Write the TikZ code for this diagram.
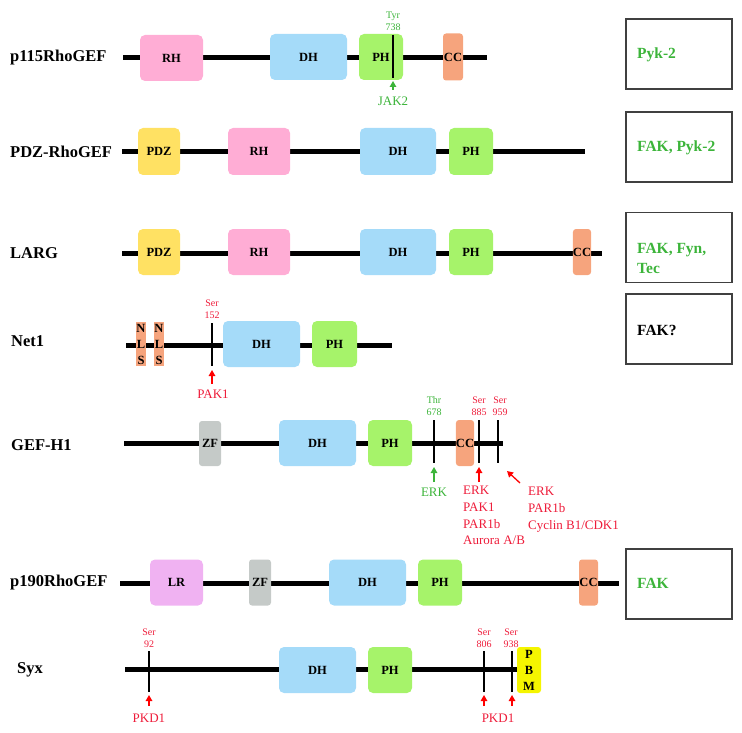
\documentclass[tikz,border=0pt]{standalone}
\usepackage{fontspec}
\setmainfont{Liberation Serif}
\usetikzlibrary{arrows.meta}
\definecolor{crh}{HTML}{FFADD5}
\definecolor{cdh}{HTML}{A5DBF9}
\definecolor{cph}{HTML}{A6F36A}
\definecolor{ccc}{HTML}{F6A47D}
\definecolor{cpdz}{HTML}{FFE163}
\definecolor{czf}{HTML}{C5CAC8}
\definecolor{clr}{HTML}{F0B2F2}
\definecolor{cpbm}{HTML}{F5F500}
\definecolor{cgreen}{HTML}{3CB43A}
\definecolor{cred}{HTML}{EE1C3A}
\definecolor{cframe}{HTML}{404040}
\begin{document}
\begin{tikzpicture}[x=1pt,y=-1pt,
  bb/.style={line width=5pt},
  dom/.style={rounded corners=5pt, inner sep=0pt, font=\fontsize{12.5}{12.5}\selectfont\bfseries},
  thin/.style={inner sep=0pt, align=center, font=\fontsize{12.5}{16}\selectfont\bfseries},
  pname/.style={anchor=west, inner sep=0pt, font=\fontsize{16.5}{16.5}\selectfont\bfseries},
  site/.style={line width=2.2pt},
  stxt/.style={align=center, inner sep=0pt, font=\fontsize{10}{12.5}\selectfont},
  ktxt/.style={align=center, inner sep=0pt, font=\fontsize{13}{16.5}\selectfont},
  kblock/.style={align=left, anchor=north west, inner sep=0pt, font=\fontsize{13}{16.7}\selectfont, text=cred},
  garr/.style={draw=cgreen, line width=1.3pt, -{Triangle[length=6pt,width=6.5pt]}},
  rarr/.style={draw=red, line width=1.3pt, -{Triangle[length=6pt,width=6.5pt]}},
  kbox/.style={draw=cframe, line width=1.2pt, minimum width=106pt, minimum height=70pt, inner sep=0pt},
  ktext/.style={anchor=west, inner sep=0pt, align=left, font=\fontsize{15.5}{20}\selectfont\bfseries}
]
\useasboundingbox (0,0) rectangle (742,733);

% ---------- Row 1: p115RhoGEF ----------
\node[pname] (n1) at (10,58) {p115RhoGEF};
\coordinate (b1s) at (123,58); \coordinate (b1e) at (487,58);
\draw[bb] (b1s) -- (b1e);
\node[dom, fill=crh, minimum width=63pt, minimum height=46pt] (r1rh) at (171.5,58) {RH};
\node[dom, fill=cdh, minimum width=77pt, minimum height=46pt] (r1dh) at (308.5,57) {DH};
\node[dom, fill=cph, minimum width=44pt, minimum height=46pt] (r1ph) at (381,57) {PH};
\node[dom, fill=ccc, minimum width=20pt, minimum height=47pt, rounded corners=3pt] (r1cc) at (453,57) {CC};
\coordinate (s1t) at (393,35); \coordinate (s1b) at (393,78);
\draw[site] (s1t) -- (s1b);
\node[stxt, text=cgreen] (t1) at (393,21.5) {Tyr\\738};
\node[ktxt, text=cgreen] (jak2) at (393,101) {JAK2};
\coordinate (a1) at (393,81); \coordinate (a1t) at (393,90);
\draw[garr] (a1t) -- (a1);
\node[kbox] (k1) at (679,54) {};
\node[ktext, text=cgreen] (k1t) at (637,55) {Pyk-2};

% ---------- Row 2: PDZ-RhoGEF ----------
\node[pname] (n2) at (10,152) {PDZ-RhoGEF};
\coordinate (b2s) at (122,152); \coordinate (b2e) at (585,152);
\draw[bb] (b2s) -- (b2e);
\node[dom, fill=cpdz, minimum width=42pt, minimum height=47pt] (r2pdz) at (159,151.5) {PDZ};
\node[dom, fill=crh, minimum width=62pt, minimum height=47pt] (r2rh) at (259,151.5) {RH};
\node[dom, fill=cdh, minimum width=76pt, minimum height=47pt] (r2dh) at (398,151.5) {DH};
\node[dom, fill=cph, minimum width=44pt, minimum height=47pt] (r2ph) at (471,151.5) {PH};
\node[kbox] (k2) at (679,147) {};
\node[ktext, text=cgreen] (k2t) at (637,148) {FAK, Pyk-2};

% ---------- Row 3: LARG ----------
\node[pname] (n3) at (10,253) {LARG};
\coordinate (b3s) at (122,253); \coordinate (b3e) at (602,253);
\draw[bb] (b3s) -- (b3e);
\node[dom, fill=cpdz, minimum width=42pt, minimum height=46pt] (r3pdz) at (159,252) {PDZ};
\node[dom, fill=crh, minimum width=62pt, minimum height=46pt] (r3rh) at (259,252) {RH};
\node[dom, fill=cdh, minimum width=76pt, minimum height=46pt] (r3dh) at (398,252) {DH};
\node[dom, fill=cph, minimum width=44pt, minimum height=46pt] (r3ph) at (471,252) {PH};
\node[dom, fill=ccc, minimum width=18pt, minimum height=46pt, rounded corners=3pt] (r3cc) at (582,252) {CC};
\node[kbox] (k3) at (679,247.5) {};
\node[ktext, text=cgreen] (k3t) at (637,258) {FAK, Fyn,\\Tec};

% ---------- Row 4: Net1 ----------
\node[pname] (n4) at (11,341) {Net1};
\coordinate (b4s) at (126,345); \coordinate (b4e) at (392,345);
\draw[bb] (b4s) -- (b4e);
\node[thin, fill=ccc, minimum width=10pt, minimum height=44pt] (r4n1) at (141,344) {N\\L\\S};
\node[thin, fill=ccc, minimum width=10pt, minimum height=44pt] (r4n2) at (159,344) {N\\L\\S};
\coordinate (s4t) at (212,323); \coordinate (s4b) at (212,366);
\draw[site] (s4t) -- (s4b);
\node[stxt, text=cred] (t4) at (212,309) {Ser\\152};
\node[dom, fill=cdh, minimum width=77pt, minimum height=46pt] (r4dh) at (261.5,344) {DH};
\node[dom, fill=cph, minimum width=45pt, minimum height=46pt] (r4ph) at (334.5,344) {PH};
\node[ktxt, text=cred] (pak1) at (213,394) {PAK1};
\coordinate (a4) at (212,370); \coordinate (a4t) at (212,384);
\draw[rarr] (a4t) -- (a4);
\node[kbox] (k4) at (679,329) {};
\node[ktext] (k4t) at (637,330) {FAK?};

% ---------- Row 5: GEF-H1 ----------
\node[pname] (n5) at (11,445) {GEF-H1};
\coordinate (b5s) at (124,443); \coordinate (b5e) at (503,443);
\draw[bb] (b5s) -- (b5e);
\node[dom, fill=czf, minimum width=22pt, minimum height=45pt, rounded corners=3pt] (r5zf) at (210,443.5) {ZF};
\node[dom, fill=cdh, minimum width=77pt, minimum height=46pt] (r5dh) at (317.5,443) {DH};
\node[dom, fill=cph, minimum width=44pt, minimum height=46pt] (r5ph) at (390,443) {PH};
\node[dom, fill=ccc, minimum width=18pt, minimum height=46pt, rounded corners=3pt] (r5cc) at (465,443) {CC};
\coordinate (s5at) at (434,420); \coordinate (s5ab) at (434,463);
\coordinate (s5bt) at (479,420); \coordinate (s5bb) at (479,463);
\coordinate (s5ct) at (498,420); \coordinate (s5cb) at (498,463);
\draw[site] (s5at) -- (s5ab);
\draw[site] (s5bt) -- (s5bb);
\draw[site] (s5ct) -- (s5cb);
\node[stxt, text=cgreen] (t5a) at (434,406) {Thr\\678};
\node[stxt, text=cred] (t5b) at (479,406) {Ser\\885};
\node[stxt, text=cred] (t5c) at (500,406) {Ser\\959};
\node[ktxt, text=cgreen] (erk) at (434,492) {ERK};
\coordinate (a5a) at (434,467); \coordinate (a5at) at (434,482);
\draw[garr] (a5at) -- (a5a);
\node[kblock] (kb1) at (463,486) {ERK\\PAK1\\PAR1b\\Aurora A/B};
\coordinate (a5b) at (479,467);
\coordinate (a5bt) at (479,482);
\draw[rarr] (a5bt) -- (a5b);
\node[kblock] (kb2) at (528,487) {ERK\\PAR1b\\Cyclin B1/CDK1};
\coordinate (a5ct) at (520,483); \coordinate (a5c) at (507,471);
\draw[rarr] (a5ct) -- (a5c);

% ---------- Row 6: p190RhoGEF ----------
\node[pname] (n6) at (10,583) {p190RhoGEF};
\coordinate (b6s) at (120,583); \coordinate (b6e) at (619,583);
\draw[bb] (b6s) -- (b6e);
\node[dom, fill=clr, minimum width=53pt, minimum height=46pt] (r6lr) at (176.5,582.5) {LR};
\node[dom, fill=czf, minimum width=22pt, minimum height=46pt, rounded corners=3pt] (r6zf) at (260,582.5) {ZF};
\node[dom, fill=cdh, minimum width=77pt, minimum height=46pt] (r6dh) at (367.5,582.5) {DH};
\node[dom, fill=cph, minimum width=44pt, minimum height=46pt] (r6ph) at (440,582.5) {PH};
\node[dom, fill=ccc, minimum width=19pt, minimum height=46pt, rounded corners=3pt] (r6cc) at (588.5,582.5) {CC};
\node[kbox] (k5) at (679,584) {};
\node[ktext, text=cgreen] (k5t) at (637,583) {FAK};

% ---------- Row 7: Syx ----------
\node[pname] (n7) at (17,670) {Syx};
\coordinate (b7s) at (125,669); \coordinate (b7e) at (519,669);
\draw[bb] (b7s) -- (b7e);
\node[dom, fill=cdh, minimum width=77pt, minimum height=46pt] (r7dh) at (317.5,670) {DH};
\node[dom, fill=cph, minimum width=44pt, minimum height=46pt] (r7ph) at (390,670) {PH};
\node[thin, fill=cpbm, minimum width=24pt, minimum height=46pt, rounded corners=3pt] (r7pbm) at (529,670) {P\\B\\M};
\coordinate (s7at) at (149,651); \coordinate (s7ab) at (149,692);
\coordinate (s7bt) at (484,651); \coordinate (s7bb) at (484,692);
\coordinate (s7ct) at (512,651); \coordinate (s7cb) at (512,692);
\draw[site] (s7at) -- (s7ab);
\draw[site] (s7bt) -- (s7bb);
\draw[site] (s7ct) -- (s7cb);
\node[stxt, text=cred] (t7a) at (149,638) {Ser\\92};
\node[stxt, text=cred] (t7b) at (484,638) {Ser\\806};
\node[stxt, text=cred] (t7c) at (511,638) {Ser\\938};
\node[ktxt, text=cred] (pkd1a) at (149,718) {PKD1};
\node[ktxt, text=cred] (pkd1b) at (498,718) {PKD1};
\coordinate (a7a) at (149,695); \coordinate (a7at) at (149,706);
\coordinate (a7b) at (484,695); \coordinate (a7bt) at (484,706);
\coordinate (a7c) at (512,695); \coordinate (a7ct) at (512,706);
\draw[rarr] (a7at) -- (a7a);
\draw[rarr] (a7bt) -- (a7b);
\draw[rarr] (a7ct) -- (a7c);
\end{tikzpicture}
\end{document}
